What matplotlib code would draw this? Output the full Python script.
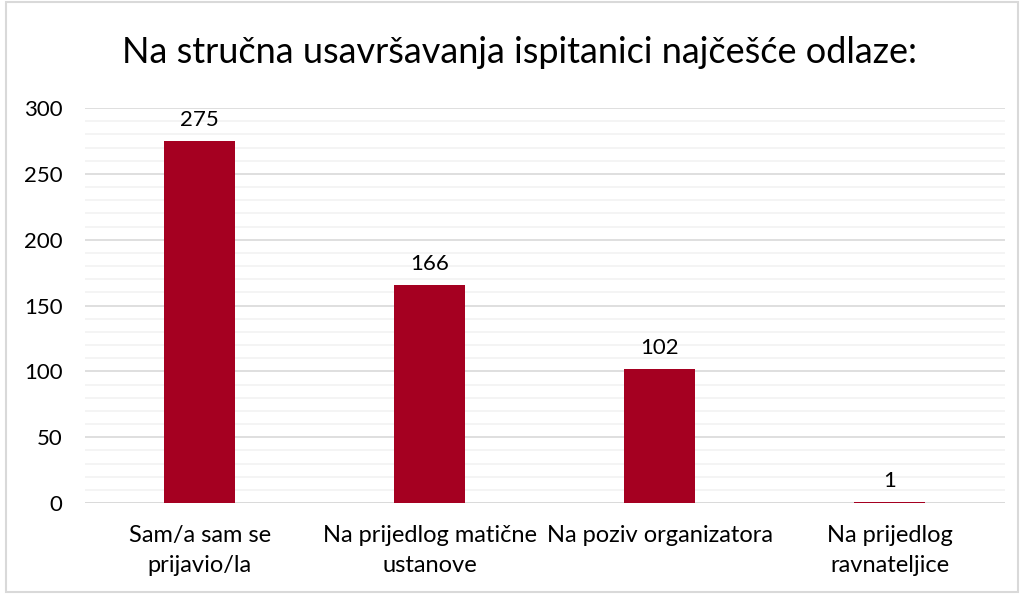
import matplotlib.pyplot as plt
from matplotlib.ticker import MultipleLocator
from matplotlib.patches import Rectangle

categories = ['Sam/a sam se\nprijavio/la', 'Na prijedlog matične\nustanove',
              'Na poziv organizatora', 'Na prijedlog\nravnateljice']
values = [275, 166, 102, 1]
bar_color = '#A50021'

plt.rcParams['font.family'] = ['Lato', 'DejaVu Sans']

fig = plt.figure(figsize=(10.22, 5.94), dpi=100)
ax = fig.add_axes([0.083, 0.153, 0.9, 0.665])

x = range(len(categories))
ax.bar(x, values, width=0.31, color=bar_color, zorder=3)
for i, v in enumerate(values):
    ax.text(i, v + 8, str(v), ha='center', va='bottom', fontsize=16, color='#000000')

ax.set_xlim(-0.5, 3.5)
ax.set_ylim(0, 300)
ax.yaxis.set_major_locator(MultipleLocator(50))
ax.yaxis.set_minor_locator(MultipleLocator(10))
ax.grid(axis='y', which='major', color='#D9D9D9', lw=1.2, zorder=0)
ax.grid(axis='y', which='minor', color='#F2F2F2', lw=1.2, zorder=0)
ax.set_xticks(list(x))
ax.set_xticklabels(categories, fontsize=17, linespacing=1.5)
ax.tick_params(axis='y', which='both', length=0, labelsize=16, pad=16)
ax.tick_params(axis='x', length=0, pad=16)
for s in ax.spines.values():
    s.set_visible(False)
ax.axhline(0, color='#D9D9D9', lw=1.2, zorder=2)

fig.text(0.508, 0.912, 'Na stručna usavršavanja ispitanici najčešće odlaze:',
         fontsize=26, ha='center', va='center')

fig.patches.append(Rectangle((0.006, 0.003), 0.99, 0.993, transform=fig.transFigure,
                             fill=False, edgecolor='#D9D9D9', lw=1.5))

fig.savefig('out.png', dpi=100)
